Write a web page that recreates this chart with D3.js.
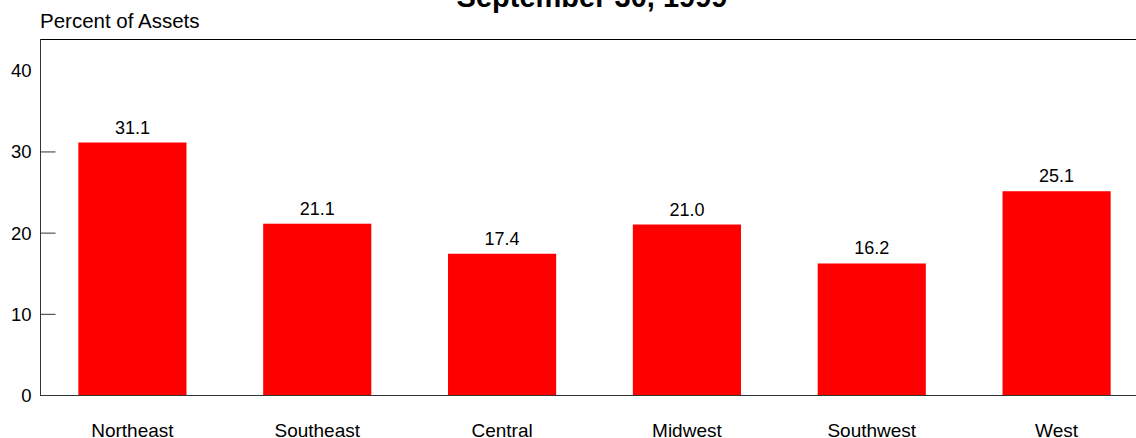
<!DOCTYPE html>
<html><head><meta charset="utf-8">
<script src="https://cdn.jsdelivr.net/npm/d3@7"></script>
<style>body{margin:0;background:#fff}svg{display:block}text{font-family:"Liberation Sans",Arial,sans-serif;fill:#000}</style>
</head><body><svg id="c" width="1136" height="438"></svg>
<script>
const categories = ["Northeast","Southeast","Central","Midwest","Southwest","West"];
const values = [31.1, 21.1, 17.4, 21.0, 16.2, 25.1];
const yTicks = [0, 10, 20, 30, 40];
const title = "September 30, 1999";
const yLabel = "Percent of Assets";

(function(){
const svg = d3.select("#c");
const mLeft = 40, mTop = 39, mBottom = 395, mRight = 1149;
const x = d3.scaleBand().domain(categories).range([mLeft, mRight]).paddingInner(0.415).paddingOuter(0.2075);
const y = d3.scaleLinear().domain([0, 43.85]).range([mBottom, mTop]);

svg.append("text").attr("x", 592).attr("y", 7).attr("text-anchor","middle")
  .attr("font-size", 29).attr("font-weight","bold").text(title);
svg.append("text").attr("x", 40).attr("y", 28).attr("font-size", 20.5).text(yLabel);

svg.selectAll("rect.bar").data(values).join("rect").attr("class","bar")
  .attr("x", (d,i)=>x(categories[i])).attr("width", x.bandwidth())
  .attr("y", d=>y(d)).attr("height", d=>y(0)-y(d)).attr("fill","#ff0000");

svg.selectAll("text.val").data(values).join("text").attr("class","val")
  .attr("x", (d,i)=>x(categories[i])+x.bandwidth()/2).attr("y", d=>y(d)-9)
  .attr("text-anchor","middle").attr("font-size",18).text(d=>d.toFixed(1));

svg.append("line").attr("x1",mLeft).attr("x2",1136).attr("y1",mTop+0.5).attr("y2",mTop+0.5).attr("stroke","#000");
svg.append("line").attr("x1",mLeft).attr("x2",1136).attr("y1",mBottom+0.5).attr("y2",mBottom+0.5).attr("stroke","#333");
svg.append("line").attr("x1",mLeft+0.5).attr("x2",mLeft+0.5).attr("y1",mTop).attr("y2",mBottom+1).attr("stroke","#333");

const yAxis = d3.axisRight(y).tickValues(yTicks).tickSize(15).tickFormat(d3.format("d")).tickPadding(0);
const g = svg.append("g").attr("transform",`translate(${mLeft+0.5},0)`).call(yAxis);
g.select(".domain").remove();
g.selectAll(".tick line").attr("stroke","#333").attr("display", d=> (d===0||d===40)?"none":null);
g.selectAll(".tick text").attr("x",-9).attr("text-anchor","end").attr("font-size",18.5)
  .attr("font-family",'"Liberation Sans",Arial,sans-serif').attr("fill","#000").attr("dy","0.35em");

const xAxis = d3.axisBottom(x).tickSize(0).tickPadding(0);
const gx = svg.append("g").attr("transform",`translate(0,${mBottom})`).call(xAxis);
gx.select(".domain").remove();
gx.selectAll(".tick text").attr("y",42).attr("dy",0).attr("font-size",19)
  .attr("font-family",'"Liberation Sans",Arial,sans-serif').attr("fill","#000");
})();
</script></body></html>
